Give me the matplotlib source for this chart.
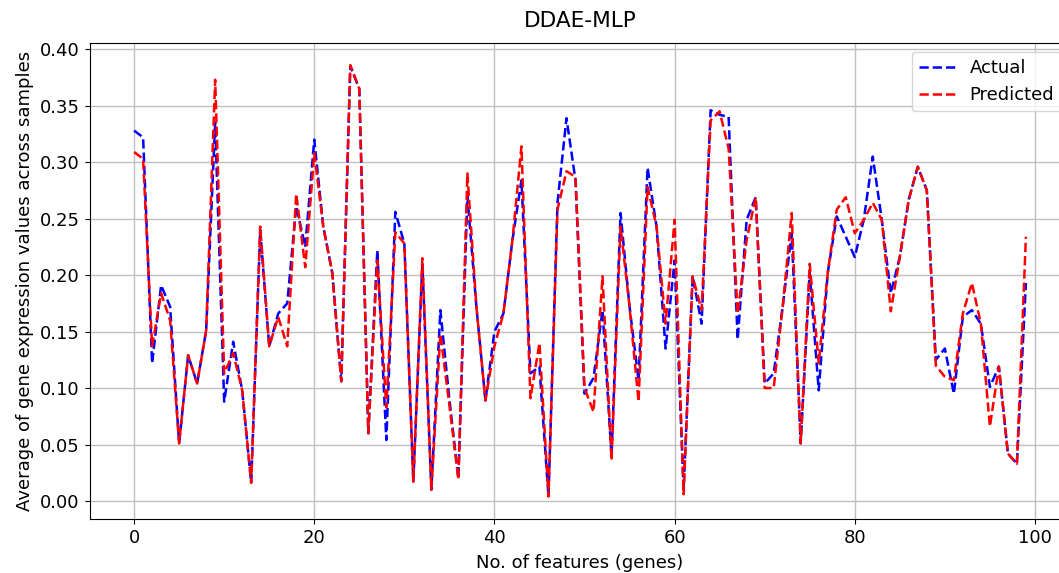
import numpy as np
import matplotlib
matplotlib.use("Agg")
import matplotlib.pyplot as plt

# Values (feature index 0..99)
actual = [0.328, 0.322, 0.122, 0.191, 0.172, 0.051, 0.129, 0.104, 0.151, 0.335,
          0.088, 0.141, 0.098, 0.016, 0.240, 0.137, 0.166, 0.175, 0.261, 0.225,
          0.320, 0.243, 0.202, 0.106, 0.385, 0.365, 0.060, 0.222, 0.054, 0.256,
          0.228, 0.017, 0.210, 0.010, 0.169, 0.090, 0.020, 0.270, 0.172, 0.089,
          0.150, 0.166, 0.231, 0.284, 0.113, 0.119, 0.004, 0.264, 0.339, 0.284,
          0.095, 0.109, 0.169, 0.040, 0.255, 0.172, 0.107, 0.295, 0.243, 0.135,
          0.213, 0.010, 0.199, 0.157, 0.346, 0.342, 0.340, 0.143, 0.249, 0.269,
          0.104, 0.113, 0.172, 0.237, 0.051, 0.202, 0.098, 0.202, 0.252, 0.234,
          0.216, 0.249, 0.305, 0.249, 0.184, 0.216, 0.267, 0.296, 0.275, 0.125,
          0.135, 0.095, 0.163, 0.169, 0.157, 0.101, 0.119, 0.042, 0.033, 0.193]

predicted = [0.309, 0.303, 0.137, 0.184, 0.160, 0.051, 0.129, 0.104, 0.151, 0.373,
             0.113, 0.131, 0.098, 0.016, 0.243, 0.137, 0.163, 0.137, 0.272, 0.207,
             0.308, 0.243, 0.202, 0.106, 0.386, 0.365, 0.060, 0.213, 0.083, 0.238,
             0.228, 0.017, 0.215, 0.010, 0.148, 0.085, 0.019, 0.290, 0.172, 0.089,
             0.137, 0.166, 0.231, 0.314, 0.091, 0.140, 0.004, 0.258, 0.292, 0.287,
             0.100, 0.079, 0.199, 0.036, 0.243, 0.172, 0.088, 0.278, 0.243, 0.157,
             0.249, 0.006, 0.199, 0.169, 0.337, 0.345, 0.312, 0.166, 0.231, 0.269,
             0.100, 0.100, 0.172, 0.255, 0.051, 0.210, 0.122, 0.202, 0.258, 0.269,
             0.237, 0.249, 0.264, 0.249, 0.168, 0.216, 0.267, 0.296, 0.275, 0.120,
             0.110, 0.107, 0.166, 0.193, 0.157, 0.066, 0.119, 0.042, 0.033, 0.234]

features = np.arange(len(actual))

plt.rcParams["font.size"] = 13

fig = plt.figure(figsize=(10.59, 5.73), dpi=100)
# axes runs a little past the right edge, as in the cropped reference
ax = fig.add_axes([89.5 / 1059, 53.7 / 573, 981 / 1059, 476.6 / 573])

ax.plot(features, actual, "b--", lw=1.8, label="Actual")
ax.plot(features, predicted, "r--", lw=1.8, label="Predicted")

ax.set_xlim(-4.95, 103.95)
ax.set_ylim(-0.0162, 0.4058)
ax.set_yticks(np.arange(0, 0.41, 0.05))
ax.set_xticks([0, 20, 40, 60, 80, 100])
ax.yaxis.set_major_formatter(matplotlib.ticker.FormatStrFormatter("%.2f"))
ax.grid(True, color="#c0c0c0", lw=1.0)

ax.set_title("DDAE-MLP", pad=11)
ax.set_xlabel("No. of features (genes)", labelpad=5)
ax.set_ylabel("Average of gene expression values across samples")
ax.legend(loc="upper right")

fig.savefig("out.png", dpi=100)
